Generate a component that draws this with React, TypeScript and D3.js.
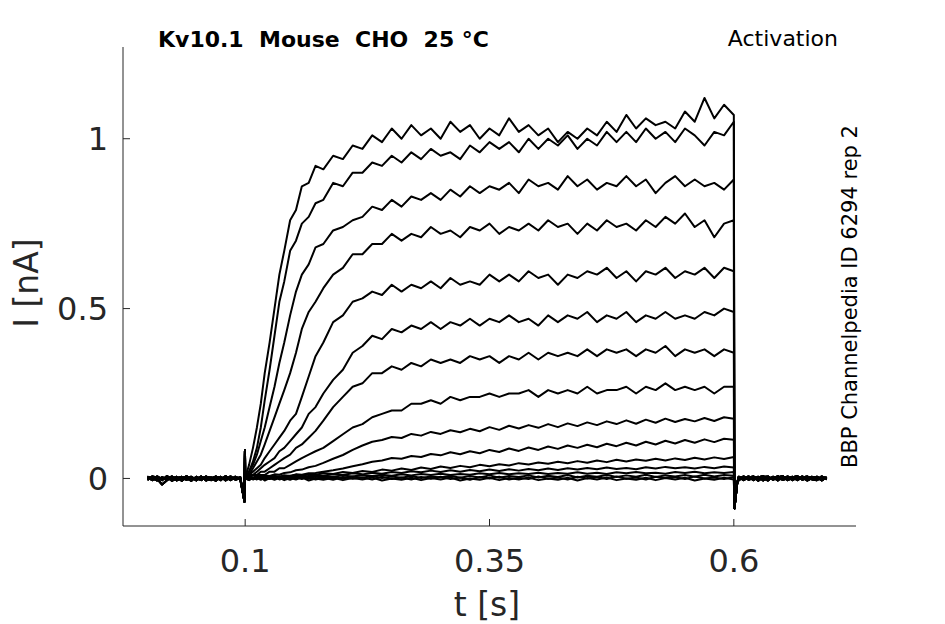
import * as d3 from "d3";

// holding period before the step
const preTimes = [0, 0.005, 0.01, 0.015, 0.02, 0.025, 0.03, 0.035, 0.04, 0.045, 0.05, 0.055, 0.06, 0.065, 0.07, 0.075, 0.08, 0.085, 0.09, 0.095];
const preBaselines = [
  [0.003, -0.005, 0.006, -0.003, 0.004, -0.007, 0.001, 0.005, -0.004, 0.003, -0.006, 0.004, 0.0, -0.005, 0.006, -0.001, 0.004, -0.005, 0.003, 0.0],
  [-0.004, 0.005, -0.001, -0.018, -0.005, 0.003, -0.006, 0.004, 0.001, -0.007, 0.005, -0.003, 0.006, -0.004, 0.0, 0.005, -0.006, 0.003, -0.001, 0.004],
  [0.005, 0.0, -0.006, 0.004, -0.003, 0.006, -0.004, -0.001, 0.007, -0.003, 0.001, -0.005, 0.004, 0.003, -0.007, 0.004, -0.003, 0.006, -0.004, 0.001],
  [-0.001, 0.006, 0.003, -0.005, 0.007, -0.001, 0.005, -0.007, 0.003, 0.005, -0.004, 0.006, -0.006, 0.001, 0.004, -0.005, 0.007, -0.003, 0.005, -0.003],
];

// capacitive artefacts at step on / off
const onsetArtifact = [[0.0993, -0.068], [0.0998, 0.082]];
const offsetArtifact = [[0.6006, -0.088], [0.6035, -0.012]];

// step from 0.1 s to 0.6 s
const stepTimes = [
  0.1, 0.104, 0.108, 0.112, 0.116, 0.12, 0.125, 0.13, 0.135, 0.14,
  0.146, 0.152, 0.158, 0.165, 0.172, 0.18, 0.19, 0.2, 0.21, 0.22, 0.23, 0.24, 0.25,
  0.26, 0.27, 0.28, 0.29, 0.3, 0.31, 0.32, 0.33, 0.34, 0.35,
  0.36, 0.37, 0.38, 0.39, 0.4, 0.41, 0.42, 0.43, 0.44, 0.45,
  0.46, 0.47, 0.48, 0.49, 0.5, 0.51, 0.52, 0.53, 0.54, 0.55,
  0.56, 0.57, 0.58, 0.59, 0.6,
];

const stepCurrents = [
  [0.0, 0.04, 0.09, 0.15, 0.22, 0.31, 0.4, 0.5, 0.6, 0.67, 0.76, 0.79, 0.86, 0.87, 0.92, 0.91, 0.95, 0.94, 0.98, 0.97, 1.01, 0.99, 1.03,
    1.0, 1.04, 1.01, 1.03, 1.0, 1.05, 1.02, 1.04, 1.0, 1.03, 1.01, 1.06, 1.02, 1.04, 1.01, 1.03, 0.99, 1.02, 1.0, 1.03, 1.01, 1.05, 1.02, 1.07, 1.03, 1.06, 1.04, 1.05, 1.03, 1.08, 1.05, 1.12, 1.06, 1.1, 1.07],
  [0.0, 0.02, 0.05, 0.09, 0.15, 0.23, 0.32, 0.42, 0.52, 0.58, 0.67, 0.7, 0.75, 0.77, 0.81, 0.82, 0.87, 0.86, 0.9, 0.9, 0.93, 0.92, 0.95,
    0.93, 0.96, 0.94, 0.97, 0.95, 0.96, 0.94, 0.98, 0.96, 0.99, 0.97, 0.99, 0.96, 1.0, 0.97, 1.0, 0.98, 1.01, 0.97, 1.0, 0.98, 1.02, 0.99, 1.02, 0.99, 1.03, 1.0, 1.02, 0.99, 1.03, 1.01, 0.98, 1.02, 1.01, 1.05],
  [0.0, 0.02, 0.04, 0.07, 0.11, 0.15, 0.21, 0.27, 0.34, 0.4, 0.48, 0.55, 0.6, 0.63, 0.68, 0.69, 0.73, 0.74, 0.76, 0.77, 0.8, 0.79, 0.82,
    0.8, 0.83, 0.82, 0.84, 0.82, 0.85, 0.83, 0.86, 0.84, 0.86, 0.85, 0.87, 0.84, 0.88, 0.86, 0.87, 0.85, 0.89, 0.86, 0.88, 0.85, 0.87, 0.86, 0.89, 0.86, 0.88, 0.84, 0.87, 0.89, 0.86, 0.88, 0.86, 0.87, 0.85, 0.88],
  [0.0, 0.01, 0.03, 0.05, 0.07, 0.1, 0.14, 0.18, 0.22, 0.26, 0.31, 0.37, 0.44, 0.49, 0.52, 0.56, 0.6, 0.62, 0.66, 0.66, 0.69, 0.69, 0.72,
    0.7, 0.72, 0.71, 0.74, 0.72, 0.73, 0.71, 0.74, 0.73, 0.75, 0.72, 0.74, 0.73, 0.75, 0.73, 0.76, 0.74, 0.75, 0.72, 0.75, 0.73, 0.76, 0.74, 0.75, 0.73, 0.76, 0.74, 0.77, 0.75, 0.78, 0.74, 0.76, 0.71, 0.75, 0.76],
  [0.0, 0.01, 0.02, 0.03, 0.04, 0.06, 0.08, 0.1, 0.12, 0.14, 0.17, 0.19, 0.24, 0.3, 0.36, 0.4, 0.46, 0.48, 0.52, 0.53, 0.55, 0.54, 0.57,
    0.55, 0.57, 0.56, 0.58, 0.56, 0.59, 0.57, 0.58, 0.57, 0.6, 0.58, 0.6, 0.58, 0.61, 0.59, 0.6, 0.57, 0.6, 0.59, 0.61, 0.6, 0.62, 0.59, 0.61, 0.58, 0.61, 0.6, 0.62, 0.59, 0.61, 0.6, 0.62, 0.59, 0.62, 0.61],
  [0.0, 0.01, 0.01, 0.02, 0.03, 0.04, 0.05, 0.06, 0.08, 0.09, 0.11, 0.13, 0.15, 0.19, 0.21, 0.25, 0.29, 0.32, 0.37, 0.39, 0.42, 0.41, 0.44,
    0.43, 0.45, 0.44, 0.46, 0.44, 0.46, 0.45, 0.47, 0.45, 0.47, 0.46, 0.48, 0.46, 0.47, 0.45, 0.48, 0.46, 0.48, 0.47, 0.49, 0.46, 0.48, 0.47, 0.49, 0.46, 0.48, 0.47, 0.49, 0.47, 0.48, 0.47, 0.49, 0.48, 0.5, 0.49],
  [0.0, 0.0, 0.01, 0.01, 0.02, 0.02, 0.03, 0.04, 0.05, 0.06, 0.07, 0.09, 0.1, 0.12, 0.14, 0.17, 0.21, 0.24, 0.27, 0.28, 0.31, 0.31, 0.33,
    0.32, 0.34, 0.33, 0.35, 0.34, 0.35, 0.34, 0.36, 0.35, 0.36, 0.34, 0.36, 0.35, 0.37, 0.35, 0.37, 0.36, 0.37, 0.36, 0.38, 0.36, 0.38, 0.37, 0.38, 0.36, 0.38, 0.37, 0.39, 0.36, 0.38, 0.37, 0.38, 0.36, 0.38, 0.37],
  [0.0, 0.0, 0.0, 0.01, 0.01, 0.01, 0.02, 0.02, 0.03, 0.03, 0.04, 0.05, 0.06, 0.07, 0.08, 0.09, 0.11, 0.13, 0.15, 0.16, 0.18, 0.19, 0.2,
    0.2, 0.22, 0.22, 0.23, 0.22, 0.24, 0.23, 0.24, 0.24, 0.25, 0.24, 0.25, 0.25, 0.26, 0.24, 0.26, 0.25, 0.26, 0.25, 0.27, 0.25, 0.26, 0.26, 0.27, 0.25, 0.27, 0.26, 0.28, 0.26, 0.27, 0.26, 0.27, 0.25, 0.27, 0.27],
  [0.0, 0.004, 0.001, 0.006, 0.004, 0.009, 0.007, 0.012, 0.011, 0.016, 0.018, 0.024, 0.026, 0.033, 0.037, 0.046, 0.058, 0.069, 0.084, 0.097, 0.108, 0.113, 0.122,
    0.119, 0.131, 0.126, 0.137, 0.131, 0.142, 0.136, 0.146, 0.139, 0.151, 0.143, 0.155, 0.147, 0.157, 0.149, 0.16, 0.151, 0.162, 0.154, 0.165, 0.157, 0.168, 0.16, 0.171, 0.161, 0.173, 0.164, 0.176, 0.166, 0.175, 0.168, 0.178, 0.169, 0.18, 0.176],
  [0.0, 0.003, -0.001, 0.004, 0.002, 0.006, 0.003, 0.007, 0.005, 0.009, 0.008, 0.012, 0.011, 0.015, 0.016, 0.02, 0.024, 0.029, 0.036, 0.042, 0.049, 0.053, 0.06,
    0.058, 0.066, 0.063, 0.072, 0.068, 0.077, 0.071, 0.08, 0.074, 0.084, 0.078, 0.088, 0.081, 0.091, 0.084, 0.094, 0.087, 0.097, 0.09, 0.099, 0.092, 0.102, 0.095, 0.105, 0.097, 0.108, 0.1, 0.111, 0.103, 0.113, 0.105, 0.115, 0.107, 0.117, 0.114],
  [0.0, 0.004, -0.002, 0.005, 0.001, 0.006, 0.002, 0.007, 0.004, 0.009, 0.006, 0.011, 0.008, 0.013, 0.01, 0.016, 0.013, 0.019, 0.016, 0.022, 0.019, 0.026, 0.023,
    0.029, 0.025, 0.032, 0.028, 0.035, 0.031, 0.037, 0.033, 0.04, 0.036, 0.042, 0.038, 0.045, 0.041, 0.047, 0.043, 0.049, 0.045, 0.051, 0.046, 0.053, 0.048, 0.055, 0.05, 0.056, 0.052, 0.058, 0.053, 0.059, 0.054, 0.061, 0.056, 0.062, 0.057, 0.063],
  [0.0, -0.003, 0.003, 0.0, 0.004, 0.001, 0.005, 0.002, 0.006, 0.003, 0.007, 0.004, 0.009, 0.006, 0.011, 0.008, 0.013, 0.01, 0.015, 0.012, 0.017, 0.014, 0.019,
    0.016, 0.021, 0.018, 0.023, 0.019, 0.024, 0.02, 0.025, 0.021, 0.026, 0.022, 0.027, 0.023, 0.028, 0.024, 0.029, 0.025, 0.03, 0.026, 0.031, 0.027, 0.032, 0.028, 0.031, 0.027, 0.033, 0.029, 0.034, 0.03, 0.033, 0.029, 0.034, 0.03, 0.035, 0.032],
  [0.0, 0.003, -0.002, 0.004, 0.0, 0.003, -0.001, 0.004, 0.001, 0.005, 0.002, 0.006, 0.003, 0.007, 0.004, 0.008, 0.005, 0.009, 0.006, 0.01, 0.007, 0.011, 0.008,
    0.012, 0.009, 0.013, 0.01, 0.014, 0.01, 0.013, 0.011, 0.015, 0.012, 0.016, 0.012, 0.015, 0.013, 0.017, 0.013, 0.016, 0.014, 0.018, 0.014, 0.017, 0.013, 0.018, 0.015, 0.019, 0.015, 0.017, 0.014, 0.019, 0.016, 0.02, 0.015, 0.018, 0.016, 0.019],
  [0.0, -0.004, 0.003, -0.002, 0.004, -0.003, 0.002, -0.001, 0.005, -0.002, 0.004, 0.0, 0.005, -0.001, 0.006, 0.001, 0.005, 0.0, 0.006, 0.002, 0.007, 0.001, 0.006,
    0.002, 0.007, 0.001, 0.006, 0.003, 0.008, 0.002, 0.007, 0.003, 0.009, 0.002, 0.007, 0.004, 0.009, 0.003, 0.008, 0.004, 0.01, 0.003, 0.008, 0.005, 0.01, 0.004, 0.009, 0.005, 0.011, 0.004, 0.009, 0.006, 0.01, 0.005, 0.011, 0.006, 0.01, 0.008],
  [0.0, 0.004, -0.003, 0.002, -0.004, 0.003, -0.002, 0.004, -0.003, 0.001, -0.004, 0.003, -0.002, 0.005, -0.003, 0.002, -0.004, 0.004, -0.001, 0.003, -0.003, 0.005, -0.002,
    0.003, -0.003, 0.004, -0.001, 0.005, -0.002, 0.003, -0.004, 0.004, 0.0, 0.005, -0.003, 0.002, -0.002, 0.006, -0.001, 0.003, -0.003, 0.005, 0.0, 0.004, -0.002, 0.006, -0.001, 0.003, -0.003, 0.005, 0.001, 0.004, -0.002, 0.006, 0.0, 0.003, -0.002, 0.004],
  [0.0, -0.005, 0.002, -0.003, 0.003, -0.006, 0.001, -0.004, 0.002, -0.005, 0.001, -0.003, 0.003, -0.006, 0.0, -0.004, 0.002, -0.005, 0.001, -0.003, 0.003, -0.006, 0.0,
    -0.004, 0.002, -0.005, 0.001, -0.003, 0.003, -0.006, 0.0, -0.004, 0.002, -0.005, 0.001, -0.003, 0.003, -0.005, 0.0, -0.004, 0.002, -0.006, 0.001, -0.003, 0.003, -0.005, 0.0, -0.004, 0.002, -0.005, 0.001, -0.003, 0.002, -0.006, 0.0, -0.004, 0.002, -0.003],
];

// after the step
const postTimes = [0.605, 0.61, 0.615, 0.62, 0.625, 0.63, 0.635, 0.64, 0.645, 0.65, 0.655, 0.66, 0.665, 0.67, 0.675, 0.68, 0.685, 0.69, 0.695];
const postBaselines = [
  [0.004, -0.005, 0.003, 0.006, -0.004, 0.001, -0.006, 0.005, 0.0, -0.003, 0.006, -0.005, 0.003, 0.004, -0.006, 0.001, 0.005, -0.003, 0.0],
  [-0.003, 0.006, -0.004, 0.001, 0.005, -0.006, 0.004, -0.001, 0.007, -0.004, 0.0, 0.005, -0.005, 0.003, 0.006, -0.003, -0.005, 0.004, 0.001],
  [0.005, 0.0, 0.006, -0.005, 0.003, 0.007, -0.003, 0.004, -0.006, 0.005, -0.001, 0.003, 0.007, -0.004, 0.001, 0.005, -0.004, 0.006, -0.003],
  [-0.005, 0.003, -0.001, 0.005, -0.007, 0.004, 0.006, -0.004, 0.003, 0.007, -0.005, 0.001, -0.003, 0.006, -0.004, 0.004, 0.003, -0.006, 0.004],
];

const xTickValues = [0.1, 0.35, 0.6];
const yTickValues = [0, 0.5, 1];

const title = "Kv10.1  Mouse  CHO  25 °C";
const protocolName = "Activation";
const sourceNote = "BBP Channelpedia ID 6294 rep 2";

const width = 945;
const height = 624;
const axisColour = "#262626";

export default function App() {
  const x = d3.scaleLinear().domain([-0.025, 0.725]).range([123, 856]);
  const y = d3.scaleLinear().domain([-0.14, 1.27]).range([526, 47]);

  const line = d3
    .line<number[]>()
    .x((d) => x(d[0]))
    .y((d) => y(d[1]));

  const traces = stepCurrents.map((currents, i) => {
    const pre = preTimes.map((t, j) => [t, preBaselines[i % 4][j]]);
    const step = stepTimes.map((t, j) => [t, currents[j]]);
    const post = postTimes.map((t, j) => [t, postBaselines[(i + 1) % 4][j]]);
    return [...pre, ...onsetArtifact, ...step, ...offsetArtifact, ...post];
  });

  const [x0, x1] = x.range();
  const [y0, y1] = y.range();

  return (
    <svg
      width={width}
      height={height}
      style={{ position: "absolute", left: 0, top: 0, background: "#fff" }}
      fontFamily="DejaVu Sans"
    >
      <g fill="none" stroke="#000" strokeWidth={2} strokeLinejoin="round">
        {traces.map((pts, i) => (
          <path key={i} d={line(pts) ?? ""} />
        ))}
      </g>

      {/* axes */}
      <g stroke={axisColour} strokeWidth={1}>
        <line x1={x0} x2={x0} y1={y0} y2={y1} />
        <line x1={x0} x2={x1} y1={y0} y2={y0} />
        {xTickValues.map((t) => (
          <line key={t} x1={x(t)} x2={x(t)} y1={y0} y2={y0 - 7} />
        ))}
        {yTickValues.map((v) => (
          <line key={v} x1={x0} x2={x0 + 7} y1={y(v)} y2={y(v)} />
        ))}
      </g>

      <g fill={axisColour} fontSize={32}>
        {xTickValues.map((t) => (
          <text key={t} x={x(t)} y={572} textAnchor="middle">
            {String(t)}
          </text>
        ))}
        {yTickValues.map((v) => (
          <text key={v} x={108} y={y(v) + 11.5} textAnchor="end">
            {String(v)}
          </text>
        ))}
      </g>

      <text x={487} y={616} textAnchor="middle" fontSize={33} fill={axisColour}>
        t [s]
      </text>
      <text
        transform={`translate(38,${283}) rotate(-90)`}
        textAnchor="middle"
        fontSize={33}
        fill={axisColour}
      >
        I [nA]
      </text>

      <text x={158} y={47} fontSize={22} fontWeight="bold" style={{ whiteSpace: "pre" }}>
        {title}
      </text>
      <text x={838} y={46} fontSize={22} textAnchor="end">
        {protocolName}
      </text>
      <text transform="translate(857,468) rotate(-90)" fontSize={21}>
        {sourceNote}
      </text>
    </svg>
  );
}
